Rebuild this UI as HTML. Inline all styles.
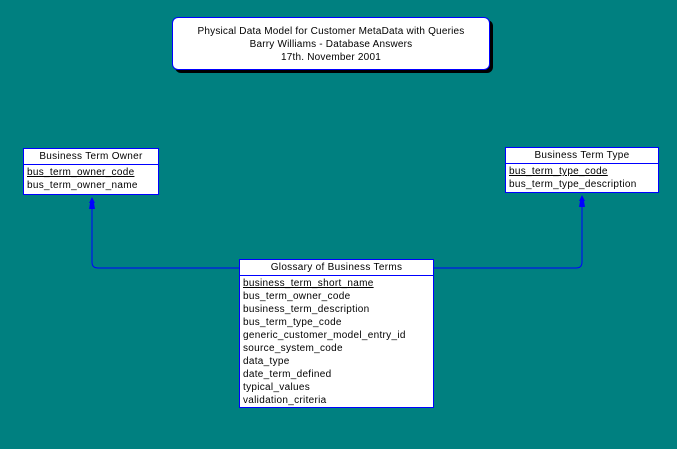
<!DOCTYPE html>
<html><head><meta charset="utf-8"><style>
body{margin:0;width:677px;height:449px;background:#008080;position:relative;overflow:hidden;font-family:"Liberation Sans",sans-serif;font-size:10px;color:#000;letter-spacing:0.3px}
.box{position:absolute;background:#fff;border:1px solid #0000ff;box-sizing:border-box}
.hd{height:16px;line-height:16px;text-align:center;border-bottom:1px solid #0000ff;box-sizing:border-box}
.r{height:13px;line-height:13px;padding-left:3px;white-space:nowrap}
.u{text-decoration:underline}
.title{position:absolute;left:172px;top:17px;width:318px;height:53px;background:#fff;border:1px solid #0000ff;border-radius:6px;box-sizing:border-box;box-shadow:3px 3px 0 #000;text-align:center;font-size:10px;line-height:13px;padding-top:7px;letter-spacing:0.2px}
</style></head><body>
<div class="title">Physical Data Model for Customer MetaData with Queries<br>Barry Williams - Database Answers<br>17th. November 2001</div>
<svg width="677" height="449" style="position:absolute;left:0;top:0">
<path d="M239 268 H98 Q92 268 92 262 V200" stroke="#0000ff" fill="none" stroke-width="1"/>
<path d="M433 268 H576 Q582 268 582 262 V198" stroke="#0000ff" fill="none" stroke-width="1"/>
<polygon points="92,197 89,203 90,203 89,209 95,209 94,203 95,203" fill="#0000ff"/>
<polygon points="582,195 579,201 580,201 579,207 585,207 584,201 585,201" fill="#0000ff"/>
</svg>
<div class="box" style="left:23px;top:148px;width:136px;height:47px">
<div class="hd">Business Term Owner</div>
<div class="r u" style="margin-top:1px">bus_term_owner_code</div>
<div class="r">bus_term_owner_name</div>
</div>
<div class="box" style="left:505px;top:147px;width:154px;height:46px">
<div class="hd">Business Term Type</div>
<div class="r u" style="margin-top:1px">bus_term_type_code</div>
<div class="r">bus_term_type_description</div>
</div>
<div class="box" style="left:239px;top:259px;width:195px;height:149px">
<div class="hd">Glossary of Business Terms</div>
<div class="r u" style="margin-top:1px">business_term_short_name</div>
<div class="r">bus_term_owner_code</div>
<div class="r">business_term_description</div>
<div class="r">bus_term_type_code</div>
<div class="r">generic_customer_model_entry_id</div>
<div class="r">source_system_code</div>
<div class="r">data_type</div>
<div class="r">date_term_defined</div>
<div class="r">typical_values</div>
<div class="r">validation_criteria</div>
</div>
</body></html>
